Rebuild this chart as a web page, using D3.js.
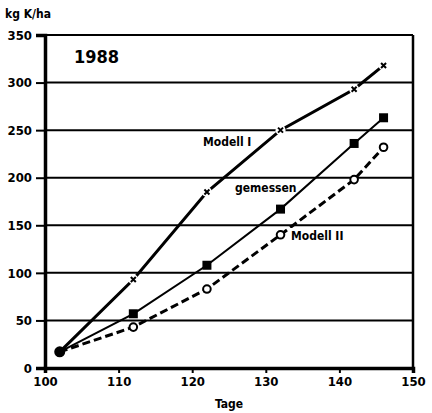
<!DOCTYPE html>
<html>
<head>
<meta charset="utf-8">
<script src="https://cdn.jsdelivr.net/npm/d3@7"></script>
<style>
  body { margin: 0; background: #fff; }
  text { font-family: "DejaVu Sans Condensed", "DejaVu Sans", sans-serif; font-weight: bold; fill: #000; }
</style>
</head>
<body>
<div id="chart"></div>
<script>
// data (K uptake, kg K/ha, 1988)
var days = [102, 112, 122, 132, 142, 146];
var modell1 = [17, 93, 185, 250, 293, 318];
var gemessen = [17, 57, 108, 167, 236, 263];
var modell2 = [17, 43, 83, 140, 198, 232];
var xTicks = [100, 110, 120, 130, 140, 150];
var yTicks = [0, 50, 100, 150, 200, 250, 300, 350];

var width = 432, height = 413;
var plotLeft = 45, plotRight = 413, plotTop = 35, plotBottom = 368;

var svg = d3.select("#chart")
            .append("svg")
            .attr("width", width)
            .attr("height", height);

var x = d3.scaleLinear().domain([100, 150]).range([plotLeft, plotRight]);
var y = d3.scaleLinear().domain([0, 350]).range([plotBottom, plotTop]);

// horizontal grid lines
svg.selectAll(".grid")
   .data(yTicks.slice(1))
   .enter()
   .append("line")
   .attr("x1", plotLeft).attr("x2", plotRight)
   .attr("y1", function(d) { return y(d); })
   .attr("y2", function(d) { return y(d); })
   .attr("stroke", "#000")
   .attr("stroke-width", 2);

// right border
svg.append("line")
   .attr("x1", plotRight).attr("x2", plotRight)
   .attr("y1", plotTop).attr("y2", plotBottom)
   .attr("stroke", "#000").attr("stroke-width", 2.5);

// axes
var yAxis = svg.append("g")
   .attr("transform", "translate(" + plotLeft + ",0)")
   .call(d3.axisLeft(y).tickValues(yTicks).tickSize(9).tickPadding(4));
var xAxis = svg.append("g")
   .attr("transform", "translate(0," + plotBottom + ")")
   .call(d3.axisBottom(x).tickValues(xTicks).tickSize(5).tickPadding(4));

[xAxis, yAxis].forEach(function(ax) {
  ax.select(".domain").attr("stroke-width", 3.5);
  ax.selectAll(".tick line").attr("stroke-width", 2);
  ax.selectAll(".tick text").style("font-size", "13px")
    .style("font-family", "'DejaVu Sans Condensed', sans-serif")
    .style("font-weight", "bold");
});

var line = d3.line()
             .x(function(d, i) { return x(days[i]); })
             .y(function(d) { return y(d); });

// Modell II (dashed)
svg.append("path")
   .datum(modell2)
   .attr("d", line)
   .attr("fill", "none")
   .attr("stroke", "#000")
   .attr("stroke-width", 3)
   .attr("stroke-dasharray", "8,4");

// gemessen
svg.append("path")
   .datum(gemessen)
   .attr("d", line)
   .attr("fill", "none")
   .attr("stroke", "#000")
   .attr("stroke-width", 2);

// Modell I
svg.append("path")
   .datum(modell1)
   .attr("d", line)
   .attr("fill", "none")
   .attr("stroke", "#000")
   .attr("stroke-width", 3);

// Modell I markers: small crosses with a white gap around them
var m1 = svg.selectAll(".m1")
   .data(modell1.slice(1))
   .enter()
   .append("g")
   .attr("transform", function(d, i) {
     return "translate(" + x(days[i + 1]) + "," + y(d) + ")";
   });
m1.append("circle").attr("r", 5).attr("fill", "#fff");
m1.append("path")
  .attr("d", "M-2.5,-2.5L2.5,2.5M-2.5,2.5L2.5,-2.5")
  .attr("stroke", "#000").attr("stroke-width", 2);

// gemessen markers: filled squares
svg.selectAll(".m2")
   .data(gemessen.slice(1))
   .enter()
   .append("rect")
   .attr("x", function(d, i) { return x(days[i + 1]) - 4.5; })
   .attr("y", function(d) { return y(d) - 4.5; })
   .attr("width", 9).attr("height", 9)
   .attr("fill", "#000");

// Modell II markers: open circles
svg.selectAll(".m3")
   .data(modell2.slice(1))
   .enter()
   .append("circle")
   .attr("cx", function(d, i) { return x(days[i + 1]); })
   .attr("cy", function(d) { return y(d); })
   .attr("r", 3.8)
   .attr("fill", "#fff")
   .attr("stroke", "#000")
   .attr("stroke-width", 2);

// common start point
svg.append("circle")
   .attr("cx", x(days[0]))
   .attr("cy", y(modell1[0]))
   .attr("r", 5.5)
   .attr("fill", "#000");

// series labels
svg.append("text").attr("x", 203).attr("y", 146).style("font-size", "12px").text("Modell I");
svg.append("text").attr("x", 235).attr("y", 192).style("font-size", "12px").text("gemessen");
svg.append("rect").attr("x", 289).attr("y", 228).attr("width", 64).attr("height", 14).attr("fill", "#fff");
svg.append("text").attr("x", 291).attr("y", 240).style("font-size", "12px").text("Modell II");

// year label
svg.append("text").attr("x", 74).attr("y", 63).style("font-size", "18px").text("1988");

// axis titles
svg.append("text").attr("x", 5).attr("y", 18).style("font-size", "12px").text("kg K/ha");
svg.append("text").attr("x", x(125)).attr("y", 408).attr("text-anchor", "middle")
   .style("font-size", "12px").text("Tage");
</script>
</body>
</html>
